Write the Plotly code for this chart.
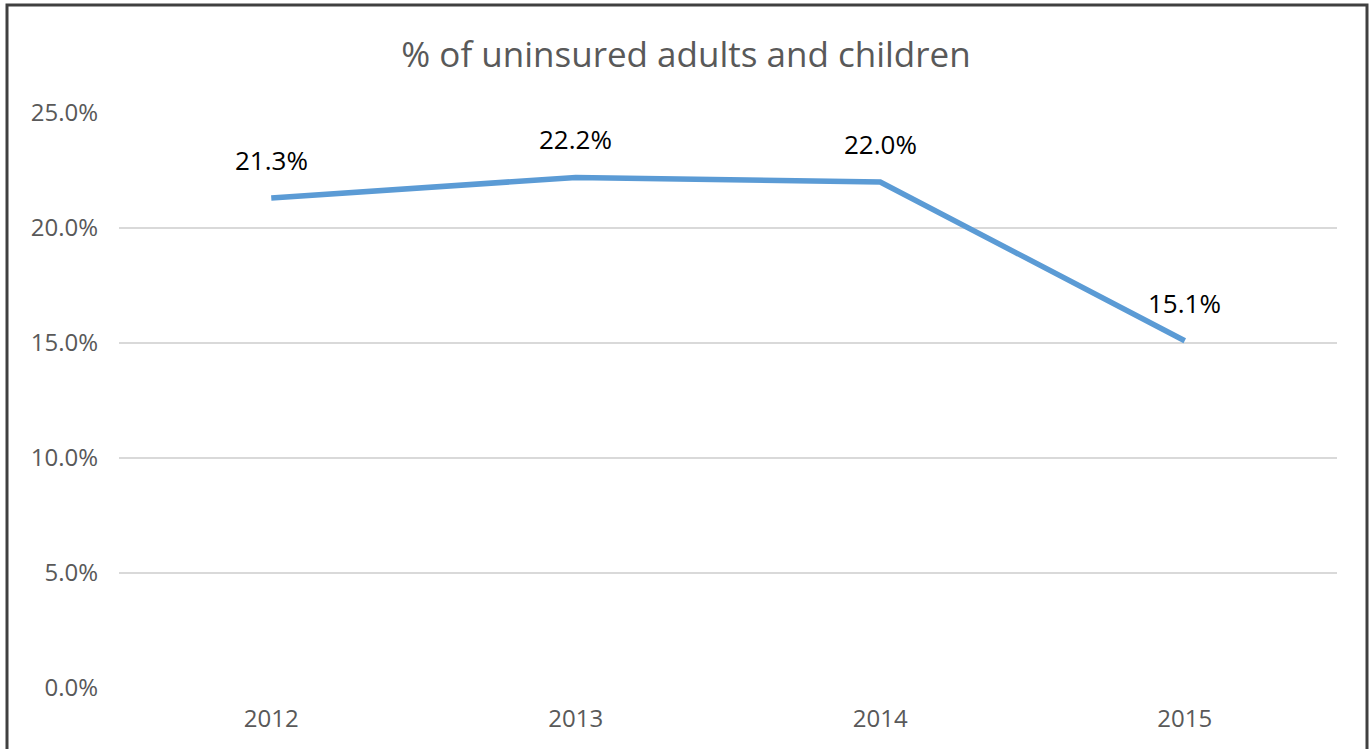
import plotly.graph_objects as go

years = ["2012", "2013", "2014", "2015"]
uninsured_pct = [21.3, 22.2, 22.0, 15.1]
y_ticks = [0, 5, 10, 15, 20, 25]
y_tick_labels = ["{:.1f}%".format(v) for v in y_ticks]

FONT = "Open Sans"
W, H = 1372, 749
ML, MR, MT, MB = 119, W - 1337, 113, H - 688
PW, PH = W - ML - MR, H - MT - MB


def px_x(x):
    return (x - ML) / PW


def px_y(y):
    return (H - MB - y) / PH


line = go.Scatter(
    x=years,
    y=uninsured_pct,
    mode="lines",
    line=dict(color="#5B9BD5", width=5.5),
    hoverinfo="x+y",
    showlegend=False,
)

# data labels sit well above each point, like the Excel original
labels = [
    dict(x=i, y=v, xref="x", yref="y", text="{:.1f}%".format(v),
         showarrow=False, yshift=38,
         font=dict(size=26, color="#000000", family=FONT))
    for i, v in enumerate(uninsured_pct)
]

layout = go.Layout(
    width=W,
    height=H,
    margin=dict(l=ML, r=MR, t=MT, b=MB, pad=0),
    paper_bgcolor="white",
    plot_bgcolor="white",
    title=dict(
        text="% of uninsured adults and children",
        x=0.5, xanchor="center", y=1 - 55 / H, yanchor="middle",
        font=dict(family=FONT, size=35, color="#595959"),
    ),
    xaxis=dict(
        type="category",
        range=[-0.5, 3.5],
        showgrid=False,
        zeroline=False,
        showline=False,
        ticks="",
        ticklabelstandoff=14,
        tickfont=dict(family=FONT, size=24, color="#595959"),
        fixedrange=True,
    ),
    yaxis=dict(
        range=[0, 25],
        tickvals=y_ticks,
        ticktext=y_tick_labels,
        showgrid=True,
        gridcolor="#D9D9D9",
        gridwidth=2,
        zeroline=False,
        showline=False,
        ticks="",
        ticklabelstandoff=20,
        tickfont=dict(family=FONT, size=24, color="#595959"),
        fixedrange=True,
    ),
    annotations=labels,
    shapes=[
        dict(type="rect", xref="paper", yref="paper",
             x0=px_x(7), x1=px_x(1367), y0=px_y(5), y1=px_y(780),
             line=dict(color="#404040", width=3)),
    ],
)

fig = go.Figure(data=[line], layout=layout)
fig.write_html("out.html",
               config={"displayModeBar": False},
               post_script="document.body.style.margin='0';"
                           "document.body.style.overflow='hidden';")
